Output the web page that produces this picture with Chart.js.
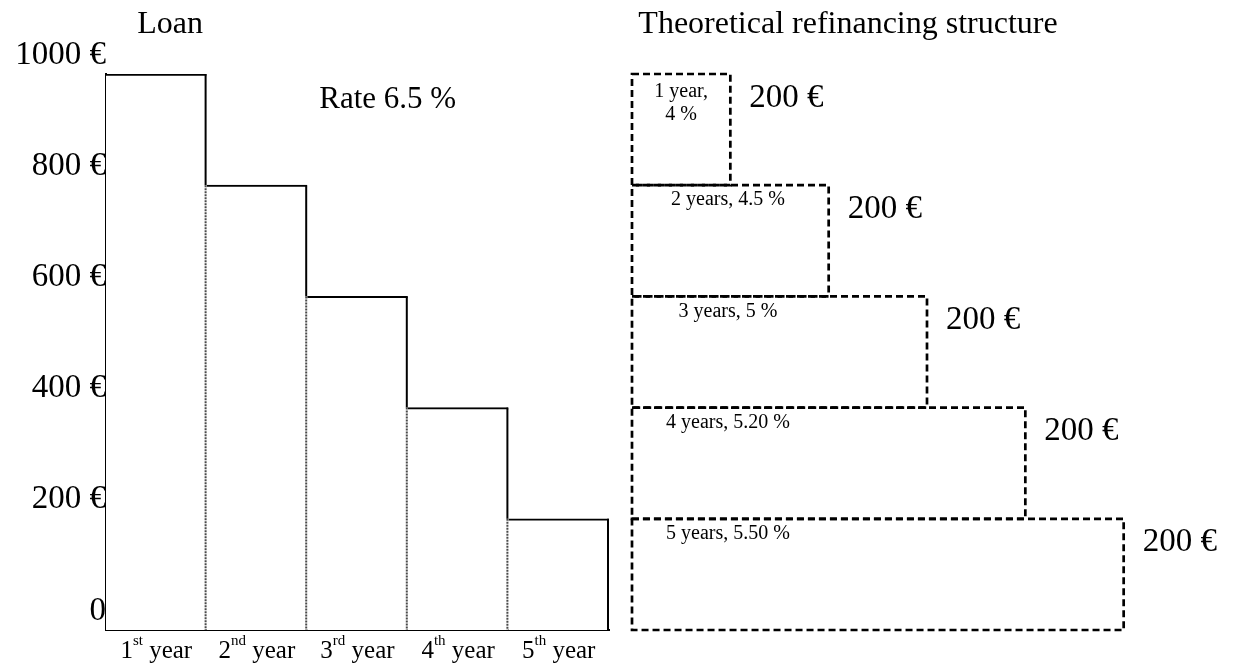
<!DOCTYPE html>
<html>
<head>
<meta charset="utf-8">
<script src="https://cdn.jsdelivr.net/npm/chart.js@4.4.1/dist/chart.umd.min.js"></script>
<style>
html,body{margin:0;padding:0;background:#fff;}
#wrap{position:relative;width:1236px;height:664px;overflow:hidden;}
#c1{position:absolute;left:0;top:0;}
#c2{position:absolute;left:620px;top:0;}
</style>
</head>
<body>
<div id="wrap">
<canvas id="c1" width="620" height="664"></canvas>
<canvas id="c2" width="616" height="664"></canvas>
</div>
<script>
// ---- data ----
const loanTitle = 'Loan';
const loanRateLabel = 'Rate 6.5 %';
const loanYears = ['1st year', '2nd year', '3rd year', '4th year', '5th year'];
const loanOutstanding = [1000, 800, 600, 400, 200];
const yTickValues = [0, 200, 400, 600, 800, 1000];
const yTickLabels = ['0', '200 €', '400 €', '600 €', '800 €', '1000 €'];

const refiTitle = 'Theoretical refinancing structure';
const refiDurations = [1, 2, 3, 4, 5];
const refiRates = ['4 %', '4.5 %', '5 %', '5.20 %', '5.50 %'];
const refiAmounts = [200, 200, 200, 200, 200];

// ---- styling ----
const FONT = "'Liberation Serif','Times New Roman',serif";
Chart.defaults.font.family = FONT;
Chart.defaults.color = '#000';
Chart.defaults.animation = false;
Chart.defaults.plugins.legend.display = false;
Chart.defaults.plugins.tooltip.enabled = false;

const yMax = yTickValues[yTickValues.length - 1];

// ---- left chart plugins ----
const loanEdges = {
  id: 'loanEdges',
  afterDatasetsDraw(chart) {
    const ctx = chart.ctx;
    const els = chart.getDatasetMeta(0).data;
    ctx.save();
    els.forEach((el, i) => {
      const p = el.getProps(['x', 'y', 'base', 'width'], true);
      const xr = p.x + p.width / 2 - 1;
      const nextTop = i < els.length - 1 ? els[i + 1].getProps(['y'], true).y : p.base;
      ctx.setLineDash([]);
      ctx.strokeStyle = '#000';
      ctx.lineWidth = 2;
      ctx.beginPath();
      ctx.moveTo(xr, p.y);
      ctx.lineTo(xr, nextTop);
      ctx.stroke();
      if (i < els.length - 1) {
        ctx.strokeStyle = '#4a4a4a';
        ctx.setLineDash([2, 1]);
        ctx.beginPath();
        ctx.moveTo(xr, nextTop);
        ctx.lineTo(xr, p.base);
        ctx.stroke();
      }
    });
    ctx.restore();
  }
};

const loanText = {
  id: 'loanText',
  afterDraw(chart) {
    const ctx = chart.ctx, xs = chart.scales.x, ca = chart.chartArea;
    ctx.save();
    ctx.fillStyle = '#000';
    ctx.textBaseline = 'alphabetic';
    ctx.textAlign = 'center';
    ctx.font = '32px ' + FONT;
    ctx.fillText(loanTitle, 170, 33);
    ctx.font = '31px ' + FONT;
    ctx.fillText(loanRateLabel, ca.left + (ca.right - ca.left) * 0.56, 108);
    const bigF = '25px ' + FONT, supF = '15px ' + FONT;
    loanYears.forEach((lab, i) => {
      const m = lab.match(/^(\d+)(\D+?)\s+(.*)$/);
      const cx = xs.getPixelForValue(i);
      ctx.font = bigF;
      const w1 = ctx.measureText(m[1]).width;
      const w3 = ctx.measureText(' ' + m[3]).width;
      ctx.font = supF;
      const w2 = ctx.measureText(m[2]).width;
      let x = cx - (w1 + w2 + w3) / 2;
      ctx.textAlign = 'left';
      ctx.font = bigF; ctx.fillText(m[1], x, 658); x += w1;
      ctx.font = supF; ctx.fillText(m[2], x, 645); x += w2;
      ctx.font = bigF; ctx.fillText(' ' + m[3], x, 658);
    });
    ctx.restore();
  }
};

new Chart(document.getElementById('c1'), {
  type: 'bar',
  data: {
    labels: loanYears,
    datasets: [{
      data: loanOutstanding,
      backgroundColor: '#fff',
      borderColor: '#000',
      borderWidth: { top: 2, left: 0, right: 0, bottom: 0 },
      borderSkipped: false,
      categoryPercentage: 1,
      barPercentage: 1
    }]
  },
  options: {
    responsive: false,
    devicePixelRatio: 1,
    layout: { padding: { top: 74, right: 11, bottom: 0, left: 0 } },
    scales: {
      x: {
        grid: { display: false, drawTicks: false },
        border: { display: true, color: '#000', width: 2 },
        ticks: { display: false },
        afterFit: s => { s.height = 34; }
      },
      y: {
        min: 0,
        max: yMax,
        grid: { display: false, drawTicks: false },
        border: { display: true, color: '#000', width: 2 },
        afterBuildTicks: s => { s.ticks = yTickValues.map(v => ({ value: v })); },
        ticks: {
          autoSkip: false,
          callback: (v, i) => yTickLabels[i],
          font: { size: 33 },
          color: '#000',
          padding: 0,
          labelOffset: -19
        },
        afterFit: s => { s.width = 106; }
      }
    }
  },
  plugins: [loanEdges, loanText]
});

// ---- right chart ----
const totalRefi = refiAmounts.reduce((a, b) => a + b, 0);
const refiCenters = [];
(function () {
  let acc = totalRefi;
  refiAmounts.forEach(a => { refiCenters.push(acc - a / 2); acc -= a; });
})();

const refiBoxes = {
  id: 'refiBoxes',
  afterDatasetsDraw(chart) {
    const ctx = chart.ctx;
    const els = chart.getDatasetMeta(0).data;
    ctx.save();
    els.forEach((el, i) => {
      const p = el.getProps(['x', 'y', 'base', 'height'], true);
      const l = Math.min(p.base, p.x), r = Math.max(p.base, p.x);
      const t = p.y - p.height / 2, b = p.y + p.height / 2;
      ctx.setLineDash([7, 4]);
      ctx.lineWidth = 2.7;
      ctx.strokeStyle = '#000';
      ctx.strokeRect(l, t, r - l, b - t);
      ctx.setLineDash([]);
      ctx.fillStyle = '#000';
      const d = refiDurations[i];
      const txt = d + (d === 1 ? ' year' : ' years') + ', ' + refiRates[i];
      ctx.font = '20px ' + FONT;
      ctx.textAlign = 'center';
      ctx.textBaseline = 'middle';
      const cx = l + Math.min((r - l) / 2, 96);
      if (ctx.measureText(txt).width > (r - l) - 16) {
        const k = txt.indexOf(', ');
        ctx.fillText(txt.slice(0, k + 1), cx, t + 18);
        ctx.fillText(txt.slice(k + 2), cx, t + 41);
      } else {
        ctx.fillText(txt, cx, t + 15);
      }
      ctx.font = '33px ' + FONT;
      ctx.textAlign = 'left';
      ctx.fillText(refiAmounts[i] + ' €', r + 19, t + 24);
    });
    ctx.font = '32px ' + FONT;
    ctx.textAlign = 'center';
    ctx.textBaseline = 'alphabetic';
    ctx.fillText(refiTitle, 228, 33);
    ctx.restore();
  }
};

new Chart(document.getElementById('c2'), {
  type: 'bar',
  data: {
    datasets: [{
      data: refiDurations.map((d, i) => ({ x: d, y: refiCenters[i] })),
      backgroundColor: 'rgba(0,0,0,0)',
      borderWidth: 0,
      categoryPercentage: 1,
      barPercentage: 1
    }]
  },
  options: {
    indexAxis: 'y',
    responsive: false,
    devicePixelRatio: 1,
    layout: { padding: { top: 74, right: 14, bottom: 34, left: 12 } },
    scales: {
      x: { type: 'linear', min: 0, max: 6, display: false },
      y: { type: 'linear', min: 0, max: totalRefi, offset: false, display: false, ticks: { stepSize: 200 } }
    }
  },
  plugins: [refiBoxes]
});
</script>
</body>
</html>
